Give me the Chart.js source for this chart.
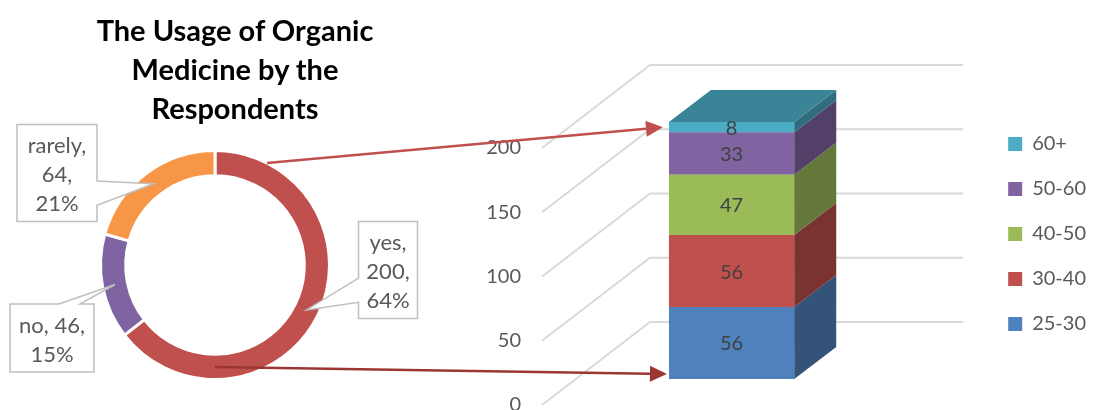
<!DOCTYPE html>
<html>
<head>
<meta charset="utf-8">
<script src="https://cdn.jsdelivr.net/npm/chart.js@4.4.1/dist/chart.umd.min.js"></script>
<style>
    html, body { margin: 0; padding: 0; background: #fff; overflow: hidden; }
    #wrap { position: relative; width: 1096px; height: 430px; }
    #wrap canvas { position: absolute; left: 0; top: 0; }
    #chartTitle {
        position: absolute; left: 75px; top: 10px; width: 320px;
        text-align: center; font: bold 29px Lato, sans-serif; line-height: 39px; color: #000;
    }
</style>
</head>
<body>
<div id="wrap">
    <canvas id="ageChart" width="1096" height="430"></canvas>
    <canvas id="usageChart" width="1096" height="430"></canvas>
    <div id="chartTitle">The Usage of Organic<br>Medicine by the<br>Respondents</div>
</div>
<script>
// --- DATA ---
const usageLabels = ['yes', 'no', 'rarely'];
const usageCounts = [200, 46, 64];
const usagePercents = ['64%', '15%', '21%'];
const usageColors = ['#C0504D', '#8064A2', '#F79646'];

const ageGroups = ['25-30', '30-40', '40-50', '50-60', '60+'];
const ageCounts = [56, 56, 47, 33, 8];
const ageColors = ['#4F81BD', '#C0504D', '#9BBB59', '#8064A2', '#4BACC6'];

const yMin = 0;
const yMax = 200;
const yStep = 50;

// --- 3D look of the column chart ---
const WALL = { x: 108, y: -83 };     // front plane -> back wall
const SHIFT = { x: 33, y: -26 };     // front face of the column inside the box
const DEPTH = { x: 42, y: -32 };     // depth of the column itself
const FONT = 'Lato, sans-serif';

const shade = (hex, f) => {
    const n = parseInt(hex.slice(1), 16);
    const r = Math.round(((n >> 16) & 255) * f);
    const g = Math.round(((n >> 8) & 255) * f);
    const b = Math.round((n & 255) * f);
    return `rgb(${r},${g},${b})`;
};

const poly = (ctx, pts, fill) => {
    ctx.beginPath();
    ctx.moveTo(pts[0][0], pts[0][1]);
    pts.slice(1).forEach(p => ctx.lineTo(p[0], p[1]));
    ctx.closePath();
    ctx.fillStyle = fill;
    ctx.fill();
};

const box3d = {
    id: 'box3d',
    beforeDatasetsDraw(chart) {
        const { ctx, chartArea } = chart;
        const yScale = chart.scales.y;
        // slanted + back wall grid lines
        ctx.save();
        ctx.strokeStyle = '#D9D9D9';
        ctx.lineWidth = 2;
        yScale.ticks.forEach(t => {
            const py = yScale.getPixelForValue(t.value);
            ctx.beginPath();
            ctx.moveTo(chartArea.left, py);
            ctx.lineTo(chartArea.left + WALL.x, py + WALL.y);
            ctx.lineTo(chartArea.right + WALL.x, py + WALL.y);
            ctx.stroke();
        });
        ctx.restore();
        // push the column into the box
        ctx.save();
        ctx.translate(SHIFT.x, SHIFT.y);
    },
    afterDatasetsDraw(chart) {
        const ctx = chart.ctx;
        const metas = chart.getSortedVisibleDatasetMetas();
        metas.forEach((meta, i) => {
            const color = chart.data.datasets[meta.index].backgroundColor;
            meta.data.forEach(bar => {
                const { x, y, base, width } = bar.getProps(['x', 'y', 'base', 'width'], true);
                const l = x - width / 2;
                const r = x + width / 2;
                poly(ctx, [[r, y], [r + DEPTH.x, y + DEPTH.y], [r + DEPTH.x, base + DEPTH.y], [r, base]], shade(color, 0.64));
                if (i === metas.length - 1) {
                    poly(ctx, [[l, y], [l + DEPTH.x, y + DEPTH.y], [r + DEPTH.x, y + DEPTH.y], [r, y]], shade(color, 0.77));
                }
            });
        });
        // value labels
        ctx.font = `20px ${FONT}`;
        ctx.fillStyle = '#404040';
        ctx.textAlign = 'center';
        ctx.textBaseline = 'middle';
        metas.forEach(meta => {
            const values = chart.data.datasets[meta.index].data;
            meta.data.forEach((bar, j) => {
                const { x, y, base } = bar.getProps(['x', 'y', 'base'], true);
                ctx.fillText(String(values[j]), x, (y + base) / 2 + 1);
            });
        });
        ctx.restore();
    }
};

const ageChart = new Chart(document.getElementById('ageChart'), {
    type: 'bar',
    data: {
        labels: [''],
        datasets: ageGroups.map((g, i) => ({
            label: g,
            data: [ageCounts[i]],
            backgroundColor: ageColors[i],
            borderWidth: 0,
            xAxisID: 'x',
            yAxisID: 'y',
            clip: false
        }))
    },
    options: {
        responsive: false,
        animation: false,
        events: [],
        layout: { padding: { left: 482, right: 0, top: 63, bottom: 25 } },
        datasets: { bar: { barPercentage: 1, categoryPercentage: 0.4 } },
        plugins: {
            tooltip: { enabled: false },
            legend: {
                position: 'right',
                reverse: true,
                maxWidth: 200,
                labels: {
                    boxWidth: 14,
                    boxHeight: 14,
                    padding: 25,
                    color: '#595959',
                    font: { family: FONT, size: 20 }
                }
            }
        },
        scales: {
            x: {
                position: 'top',
                stacked: true,
                grid: { display: false },
                border: { display: false },
                ticks: { display: false },
                afterFit: s => { s.height = 85; }
            },
            y: {
                stacked: true,
                min: yMin,
                max: yMax,
                grid: { display: false, drawTicks: false },
                border: { display: false },
                ticks: {
                    stepSize: yStep,
                    padding: 21,
                    color: '#595959',
                    font: { family: FONT, size: 20 }
                },
                afterFit: s => {
                    s.width = 60;
                    s.paddingTop = 0;
                    s.paddingBottom = 0;
                }
            },
            yGap: {
                position: 'right',
                grid: { display: false },
                border: { display: false },
                ticks: { display: false },
                afterFit: s => { s.width = 128; }
            }
        }
    },
    plugins: [box3d]
});

// --- doughnut: callouts and arrows ---
const callouts = [
    // box centre relative to the doughnut centre, box size
    { dx: 173, dy: 5, w: 59, h: 97 },
    { dx: -163, dy: 73, w: 84, h: 68 },
    { dx: -158, dy: -92, w: 80, h: 97 }
];

const arrows = [
    { angle: 27, ring: 'outer', target: 'top', color: '#C0504D' },
    { angle: 180, ring: 'mid', target: 'bottom', color: '#9B3633' }
];

const wrapText = (ctx, text, maxW) => {
    const words = text.split(' ');
    const lines = [];
    let cur = '';
    words.forEach(w => {
        const test = cur ? cur + ' ' + w : w;
        if (cur && ctx.measureText(test).width > maxW) {
            lines.push(cur);
            cur = w;
        } else {
            cur = test;
        }
    });
    if (cur) lines.push(cur);
    return lines;
};

const drawCallout = (ctx, tip, b, cx, cy, lines) => {
    const L = cx - b.w / 2, T = cy - b.h / 2, R = L + b.w, B = T + b.h;
    const nx = (tip.x - cx) / b.w;
    const ny = (tip.y - cy) / b.h;
    let side;
    if (Math.abs(nx) > Math.abs(ny)) side = nx < 0 ? 'left' : 'right';
    else side = ny < 0 ? 'top' : 'bottom';

    const fr = (side === 'left' || side === 'right') ? (tip.y > cy ? [7 / 12, 5 / 6] : [1 / 6, 5 / 12])
                                                    : (tip.x > cx ? [7 / 12, 5 / 6] : [1 / 6, 5 / 12]);
    const sides = {
        top: [[L, T], [R, T]],
        right: [[R, T], [R, B]],
        bottom: [[R, B], [L, B]],
        left: [[L, B], [L, T]]
    };
    const order = ['top', 'right', 'bottom', 'left'];
    ctx.beginPath();
    ctx.moveTo(L, T);
    order.forEach(s => {
        const [p0, p1] = sides[s];
        if (s === side) {
            let a, c;
            if (s === 'top' || s === 'bottom') {
                a = [L + b.w * fr[0], p0[1]];
                c = [L + b.w * fr[1], p0[1]];
            } else {
                a = [p0[0], T + b.h * fr[0]];
                c = [p0[0], T + b.h * fr[1]];
            }
            const d = p => Math.hypot(p[0] - p0[0], p[1] - p0[1]);
            const [n1, n2] = d(a) < d(c) ? [a, c] : [c, a];
            ctx.lineTo(n1[0], n1[1]);
            ctx.lineTo(tip.x, tip.y);
            ctx.lineTo(n2[0], n2[1]);
        }
        ctx.lineTo(p1[0], p1[1]);
    });
    ctx.closePath();
    ctx.fillStyle = '#fff';
    ctx.fill();
    ctx.strokeStyle = '#BFBFBF';
    ctx.lineWidth = 1.5;
    ctx.stroke();

    ctx.fillStyle = '#595959';
    ctx.textAlign = 'center';
    ctx.textBaseline = 'middle';
    const lh = 29;
    const y0 = cy - (lines.length - 1) * lh / 2 + 2;
    lines.forEach((ln, k) => ctx.fillText(ln, cx, y0 + k * lh));
};

const drawArrow = (ctx, from, to, color) => {
    const ang = Math.atan2(to.y - from.y, to.x - from.x);
    const len = 17, half = 8;
    const bx = to.x - Math.cos(ang) * len;
    const by = to.y - Math.sin(ang) * len;
    ctx.strokeStyle = color;
    ctx.fillStyle = color;
    ctx.lineWidth = 2.5;
    ctx.beginPath();
    ctx.moveTo(from.x, from.y);
    ctx.lineTo(bx, by);
    ctx.stroke();
    ctx.beginPath();
    ctx.moveTo(to.x, to.y);
    ctx.lineTo(bx - Math.sin(ang) * half, by + Math.cos(ang) * half);
    ctx.lineTo(bx + Math.sin(ang) * half, by - Math.cos(ang) * half);
    ctx.closePath();
    ctx.fill();
};

const annotate = {
    id: 'annotate',
    afterDraw(chart) {
        const ctx = chart.ctx;
        const arcs = chart.getDatasetMeta(0).data;
        ctx.save();
        ctx.font = `22px ${FONT}`;
        arcs.forEach((arc, i) => {
            const { x, y, startAngle, endAngle, innerRadius, outerRadius } =
                arc.getProps(['x', 'y', 'startAngle', 'endAngle', 'innerRadius', 'outerRadius'], true);
            const mid = (startAngle + endAngle) / 2;
            const rMid = (innerRadius + outerRadius) / 2;
            const tip = { x: x + Math.cos(mid) * rMid, y: y + Math.sin(mid) * rMid };
            const b = callouts[i];
            const text = `${usageLabels[i]}, ${usageCounts[i]}, ${usagePercents[i]}`;
            const lines = wrapText(ctx, text, b.w - 6);
            drawCallout(ctx, tip, b, x + b.dx, y + b.dy, lines);
        });

        // arrows from the "yes" ring to the age column
        const yesArc = arcs[0].getProps(['x', 'y', 'innerRadius', 'outerRadius'], true);
        const metas = ageChart.getSortedVisibleDatasetMetas();
        const topBar = metas[metas.length - 1].data[0].getProps(['x', 'y', 'base', 'width'], true);
        const lowBar = metas[0].data[0].getProps(['x', 'y', 'base', 'width'], true);
        arrows.forEach(a => {
            const r = a.ring === 'outer' ? yesArc.outerRadius : (yesArc.innerRadius + yesArc.outerRadius) / 2;
            const t = a.angle * Math.PI / 180;
            const from = { x: yesArc.x + r * Math.sin(t), y: yesArc.y - r * Math.cos(t) };
            let to;
            if (a.target === 'top') {
                to = { x: topBar.x - topBar.width / 2 + SHIFT.x - 6, y: (topBar.y + topBar.base) / 2 + SHIFT.y };
            } else {
                to = { x: lowBar.x - lowBar.width / 2 + SHIFT.x - 2, y: lowBar.base + SHIFT.y - 5 };
            }
            drawArrow(ctx, from, to, a.color);
        });
        ctx.restore();
    }
};

new Chart(document.getElementById('usageChart'), {
    type: 'doughnut',
    data: {
        labels: usageLabels,
        datasets: [{
            data: usageCounts,
            backgroundColor: usageColors,
            borderColor: '#fff',
            borderWidth: 3
        }]
    },
    options: {
        responsive: false,
        animation: false,
        events: [],
        cutout: '78%',
        layout: { padding: { left: 99, right: 765, top: 149, bottom: 49 } },
        plugins: {
            legend: { display: false },
            tooltip: { enabled: false }
        }
    },
    plugins: [annotate]
});
</script>
</body>
</html>
